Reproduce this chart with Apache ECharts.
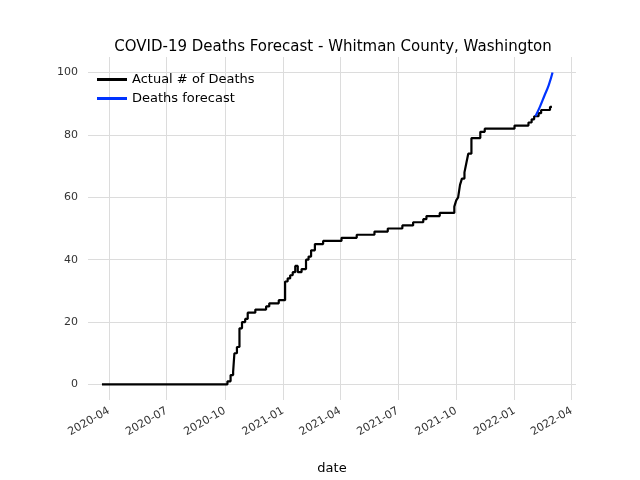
<!DOCTYPE html>
<html><head><meta charset="utf-8">
<script src="https://cdn.jsdelivr.net/npm/echarts@6/dist/echarts.min.js"></script>
<style>html,body{margin:0;background:#fff}</style>
</head><body>
<div id="main" style="width:640px;height:480px"></div>
<script>
// actual deaths (step series)
var actualDates = ['2020-03-21','2020-10-01','2020-10-05','2020-10-10','2020-10-14','2020-10-16','2020-10-20','2020-10-24','2020-10-28','2020-11-02','2020-11-06','2020-11-18','2020-12-05','2020-12-10','2020-12-25','2021-01-04','2021-01-08','2021-01-12','2021-01-16','2021-01-20','2021-01-24','2021-01-30','2021-02-06','2021-02-10','2021-02-14','2021-02-20','2021-03-05','2021-04-03','2021-04-27','2021-05-25','2021-06-15','2021-07-08','2021-07-25','2021-08-10','2021-08-15','2021-09-05','2021-09-28','2021-10-01','2021-10-04','2021-10-07','2021-10-10','2021-10-14','2021-10-17','2021-10-20','2021-10-25','2021-11-08','2021-11-15','2022-01-01','2022-01-23','2022-01-28','2022-02-01','2022-02-08','2022-02-12','2022-02-26','2022-03-01'];
var actualDeaths = [0,0,1,3,4,10,12,18,20,21,23,24,25,26,27,33,34,35,36,38,36,37,40,41,43,45,46,47,48,49,50,51,52,53,54,55,57,59,60,64,66,68,71,74,79,81,82,83,84,85,86,87,88,89,89];
// forecast
var forecastDates = ['2022-02-03','2022-02-10','2022-02-17','2022-02-24','2022-03-02'];
var forecastDeaths = [86,89,92.5,96,100];
var tickDates = ['2020-04-01','2020-07-01','2020-10-01','2021-01-01','2021-04-01','2021-07-01','2021-10-01','2022-01-01','2022-04-01'];
var yTicks = [0,20,40,60,80,100];

var ts = function(d){ return new Date(d + 'T00:00:00Z').getTime(); };
var tickTs = tickDates.map(ts);
var chart = echarts.init(document.getElementById('main'));
chart.setOption({
  animation: false,
  title: {text: 'COVID-19 Deaths Forecast - Whitman County, Washington', left: 328, top: 35, textAlign: 'center',
    textStyle: {fontFamily: 'DejaVu Sans', fontWeight: 'normal', fontSize: 15, color: '#000'}},
  legend: {left: 92, top: 68, orient: 'vertical', itemGap: 6, itemWidth: 30, itemHeight: 3,
    textStyle: {fontFamily: 'DejaVu Sans', fontSize: 13, color: '#000'},
    data: [{name: 'Actual # of Deaths', icon: 'rect'}, {name: 'Deaths forecast', icon: 'rect'}]},
  grid: {left: 88, right: 64, top: 57, bottom: 54},
  xAxis: {type: 'value', min: ts('2020-02-28'), max: ts('2022-04-08'),
    name: 'date', nameLocation: 'middle', nameGap: 62,
    nameTextStyle: {fontFamily: 'DejaVu Sans', fontSize: 13, color: '#000'},
    axisLine: {show: false},
    axisTick: {show: false, customValues: tickTs},
    axisLabel: {customValues: tickTs, rotate: 30, fontFamily: 'DejaVu Sans', fontSize: 11, color: '#333', margin: 10,
      formatter: function(v){ var d = new Date(v); return d.getUTCFullYear() + '-' + String(d.getUTCMonth()+1).padStart(2,'0'); }},
    splitLine: {show: true, lineStyle: {color: '#dcdcdc'}}
  },
  yAxis: {type: 'value', min: -5, max: 105,
    axisLine: {show: false}, axisTick: {show: false, customValues: yTicks},
    axisLabel: {customValues: yTicks, fontFamily: 'DejaVu Sans', fontSize: 11, color: '#333', margin: 10},
    splitLine: {show: true, lineStyle: {color: '#dcdcdc'}}
  },
  series: [
    {name: 'Actual # of Deaths', type: 'line', step: 'end', symbol: 'none', color: '#000',
      lineStyle: {width: 2.2, color: '#000'},
      data: actualDates.map(function(d, i){ return [ts(d), actualDeaths[i]]; })},
    {name: 'Deaths forecast', type: 'line', smooth: true, symbol: 'none', color: '#0033ff',
      lineStyle: {width: 2.2, color: '#0033ff'},
      data: forecastDates.map(function(d, i){ return [ts(d), forecastDeaths[i]]; })}
  ]
});
</script>
</body></html>
